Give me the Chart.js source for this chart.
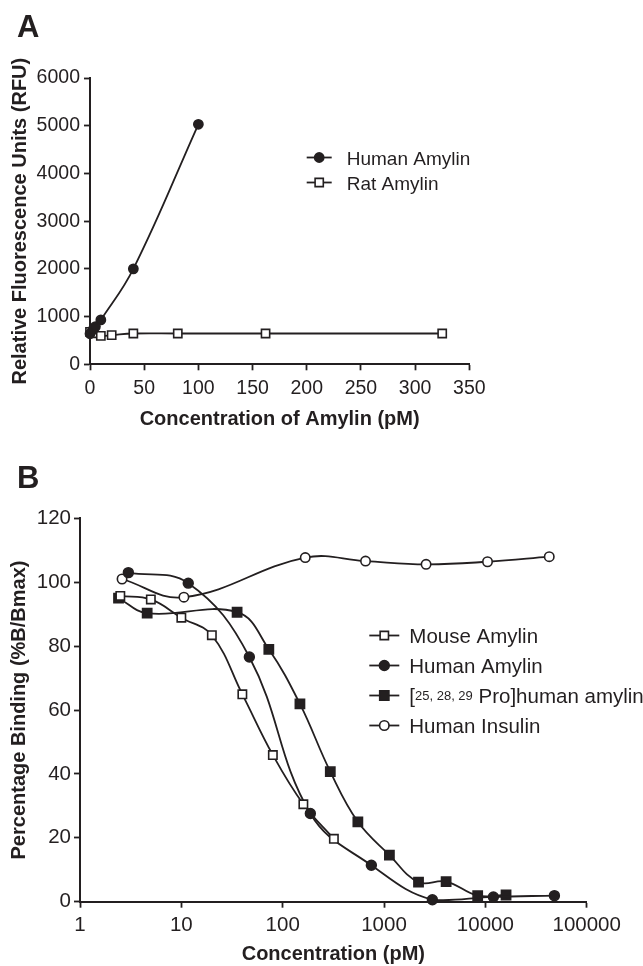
<!DOCTYPE html>
<html>
<head>
<meta charset="utf-8">
<title>Amylin panels</title>
<script src="https://cdn.jsdelivr.net/npm/chart.js@4.4.1/dist/chart.umd.min.js"></script>
<style>
    html, body { margin: 0; padding: 0; background: #fff; }
    #wrapA { position: absolute; left: 0; top: 0; width: 643px; height: 440px; }
    #wrapB { position: absolute; left: 0; top: 440px; width: 643px; height: 526px; }
</style>
</head>
<body>
<div id="wrapA"><canvas id="chartA"></canvas></div>
<div id="wrapB"><canvas id="chartB"></canvas></div>
<script>
// Panel A data (pM vs RFU)
const humanConcA = [0, 2.5, 5, 10, 40, 100];
const humanRfuA = [640, 720, 790, 930, 2000, 5030];
const ratConcA = [0, 3, 10, 20, 40, 81, 162, 325];
const ratRfuA = [680, 650, 595, 612, 645, 645, 645, 645];

// Panel B data (pM vs %B/Bmax)
const mouseConcB = [2.5, 5, 10, 20, 40, 80, 160, 320];
const mouseBindB = [95.7, 94.6, 88.9, 83.4, 64.9, 45.9, 30.5, 19.7];
const humanConcB = [3, 11.7, 46.9, 187.5, 750, 3000, 12000, 48000];
const humanBindB = [103, 99.7, 76.6, 27.6, 11.4, 0.6, 1.5, 1.9];
const proConcB = [2.4, 4.6, 35.5, 73, 148, 295, 552, 1130, 2190, 4100, 8400, 16000];
const proBindB = [95, 90.3, 90.6, 79, 61.9, 40.7, 25, 14.6, 6.1, 6.3, 1.9, 2.1];
const insulinConcB = [2.6, 10.6, 167, 657, 2600, 10500, 42700];
const insulinBindB = [101, 95.3, 107.7, 106.6, 105.6, 106.4, 108];

const logTicksB = [1, 10, 100, 1000, 10000, 100000];

const INK = '#231f20';
const FONT = '"Liberation Sans", Arial, Helvetica, sans-serif';

Chart.defaults.font.family = FONT;
Chart.defaults.color = INK;

const pairs = (xs, ys) => xs.map((x, i) => ({ x: x, y: ys[i] }));

// Line + marker legend drawn on the canvas, supports a superscript part
const lineLegend = {
    id: 'lineLegend',
    afterDraw(chart, args, opts) {
        const ctx = chart.ctx;
        ctx.save();
        chart.data.datasets.forEach((ds, i) => {
            const base = opts.y + i * opts.gap;
            const cy = base - opts.mid;
            ctx.strokeStyle = INK;
            ctx.lineWidth = 1.8;
            ctx.beginPath();
            ctx.moveTo(opts.x, cy);
            ctx.lineTo(opts.x + opts.len, cy);
            ctx.stroke();
            ctx.fillStyle = ds.pointBackgroundColor;
            ctx.lineWidth = ds.pointBorderWidth;
            Chart.helpers.drawPoint(ctx, {
                pointStyle: ds.pointStyle,
                radius: ds.pointRadius,
                borderWidth: ds.pointBorderWidth,
                rotation: 0
            }, opts.x + opts.len / 2, cy);

            const parts = ds.legendParts || [{ t: ds.label }];
            let tx = opts.textX;
            ctx.fillStyle = INK;
            ctx.textBaseline = 'alphabetic';
            ctx.textAlign = 'left';
            parts.forEach(p => {
                ctx.font = (p.sup ? opts.supSize : opts.size) + 'px ' + FONT;
                ctx.fillText(p.t, tx, p.sup ? base - opts.supRise : base);
                tx += ctx.measureText(p.t).width;
            });
        });
        ctx.restore();
    }
};

const panelLetter = {
    id: 'panelLetter',
    afterDraw(chart, args, opts) {
        const ctx = chart.ctx;
        ctx.save();
        ctx.fillStyle = INK;
        ctx.font = 'bold 31px ' + FONT;
        ctx.textBaseline = 'alphabetic';
        ctx.fillText(opts.text, opts.x, opts.y);
        ctx.restore();
    }
};

function axis(extra) {
    return Object.assign({
        grid: {
            display: true, drawOnChartArea: false, drawTicks: true,
            tickLength: 6, tickWidth: 1.8, tickColor: INK
        },
        border: { display: true, color: INK, width: 2 }
    }, extra);
}

function series(label, data, style, radius, filled) {
    return {
        label: label,
        data: data,
        borderColor: INK,
        borderWidth: 1.8,
        pointStyle: style,
        pointRadius: radius,
        pointHoverRadius: radius,
        pointBorderWidth: 1.6,
        pointBorderColor: INK,
        pointBackgroundColor: filled ? INK : '#ffffff',
        tension: 0.4,
        fill: false,
        clip: false
    };
}

const plainTick = v => String(v);

// Panel A
new Chart(document.getElementById('chartA'), {
    type: 'line',
    data: {
        datasets: [
            series('Human Amylin', pairs(humanConcA, humanRfuA), 'circle', 4.6, true),
            series('Rat Amylin', pairs(ratConcA, ratRfuA), 'rect', 5.8, false)
        ]
    },
    options: {
        responsive: true,
        maintainAspectRatio: false,
        animation: false,
        devicePixelRatio: 1,
        layout: { padding: { top: 78, left: 4, right: 173.7, bottom: 5 } },
        plugins: {
            legend: { display: false },
            tooltip: { enabled: false },
            lineLegend: { x: 306.7, len: 25, textX: 346.7, y: 165, gap: 25, mid: 7.5, size: 19, supSize: 12, supRise: 4 },
            panelLetter: { text: 'A', x: 17, y: 37 }
        },
        scales: {
            x: axis({
                type: 'linear', min: 0, max: 350,
                afterFit: s => { s.height = 70.7; },
                ticks: { stepSize: 50, padding: 7, font: { size: 19.5 }, color: INK, maxRotation: 0, callback: plainTick },
                title: {
                    display: true, text: 'Concentration of Amylin (pM)', color: INK,
                    font: { size: 20, weight: 'bold' }, padding: { top: 4, bottom: 4 }
                }
            }),
            y: axis({
                min: 0, max: 6000,
                afterFit: s => { s.width = 86; },
                ticks: { stepSize: 1000, padding: 4, font: { size: 19.5 }, color: INK, callback: plainTick },
                title: {
                    display: true, text: 'Relative Fluorescence Units (RFU)', color: INK,
                    font: { size: 20, weight: 'bold' }, padding: { top: 4, bottom: 4 }
                }
            })
        }
    },
    plugins: [lineLegend, panelLetter]
});

// Panel B
const proSeries = series('[25, 28, 29 Pro]human amylin', pairs(proConcB, proBindB), 'rect', 6.5, true);
proSeries.legendParts = [{ t: '[' }, { t: '25, 28, 29', sup: true }, { t: ' Pro]human amylin' }];

new Chart(document.getElementById('chartB'), {
    type: 'line',
    data: {
        datasets: [
            series('Mouse Amylin', pairs(mouseConcB, mouseBindB), 'rect', 5.9, false),
            series('Human Amylin', pairs(humanConcB, humanBindB), 'circle', 4.9, true),
            proSeries,
            series('Human Insulin', pairs(insulinConcB, insulinBindB), 'circle', 4.7, false)
        ]
    },
    options: {
        responsive: true,
        maintainAspectRatio: false,
        animation: false,
        devicePixelRatio: 1,
        layout: { padding: { top: 78.3, left: 3, right: 56.3, bottom: 0 } },
        plugins: {
            legend: { display: false },
            tooltip: { enabled: false },
            lineLegend: { x: 369.3, len: 30, textX: 409.3, y: 203.3, gap: 30, mid: 7.8, size: 20.5, supSize: 13, supRise: 3.5 },
            panelLetter: { text: 'B', x: 17, y: 48 }
        },
        scales: {
            x: axis({
                type: 'logarithmic', min: 1, max: 100000,
                afterFit: s => { s.height = 64.3; },
                afterBuildTicks: s => { s.ticks = logTicksB.map(v => ({ value: v })); },
                ticks: { padding: 5, font: { size: 20.5 }, color: INK, maxRotation: 0, autoSkip: false, callback: plainTick },
                title: {
                    display: true, text: 'Concentration (pM)', color: INK,
                    font: { size: 20, weight: 'bold' }, padding: { top: 4, bottom: 0 }
                }
            }),
            y: axis({
                min: 0, max: 120,
                afterFit: s => { s.width = 77; },
                ticks: { stepSize: 20, padding: 3, font: { size: 20.5 }, color: INK, callback: plainTick },
                title: {
                    display: true, text: 'Percentage Binding (%B/Bmax)', color: INK,
                    font: { size: 20, weight: 'bold' }, padding: { top: 4, bottom: 4 }
                }
            })
        }
    },
    plugins: [lineLegend, panelLetter]
});
</script>
</body>
</html>
